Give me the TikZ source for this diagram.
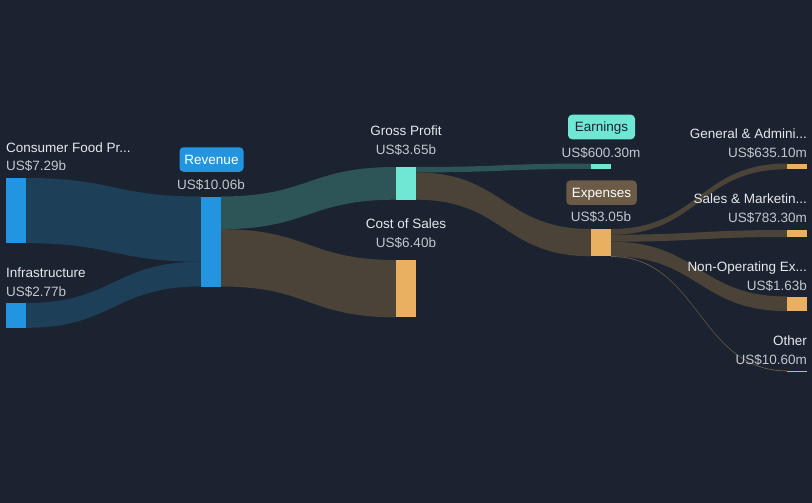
\documentclass[tikz,border=0pt]{standalone}
\usepackage{fontspec}
\setmainfont{Liberation Sans}
\usetikzlibrary{calc}
\definecolor{bgc}{HTML}{1B2230}
\definecolor{nblue}{HTML}{2394DF}
\definecolor{lblue}{HTML}{1E3F58}
\definecolor{nteal}{HTML}{6EE8D5}
\definecolor{lteal}{HTML}{2D5456}
\definecolor{norange}{HTML}{E8B060}
\definecolor{lbrown}{HTML}{4B4338}
\definecolor{bbrown}{HTML}{6B5A45}
\definecolor{tname}{HTML}{E6E8EB}
\definecolor{tval}{HTML}{C3C7CD}
\pgfdeclarelayer{bgl}
\pgfdeclarelayer{links}
\pgfsetlayers{bgl,links,main}
\newcommand{\flow}[6]{%
  \path ($(#2.north east)+(0,#3)$) coordinate (s1)
        ($(#2.north east)+(0,#3+#6)$) coordinate (s2)
        ($(#4.north west)+(0,#5)$) coordinate (d1)
        ($(#4.north west)+(0,#5+#6)$) coordinate (d2)
        ($(s1)!0.5!(d1)$) coordinate (m);
  \begin{pgfonlayer}{links}
    \fill[#1] (s1) .. controls (s1 -| m) and (d1 -| m) .. (d1) -- (d2)
      .. controls (d2 -| m) and (s2 -| m) .. (s2) -- cycle;
  \end{pgfonlayer}}
\tikzset{
  bar/.style={rectangle, inner sep=0pt, outer sep=0pt, minimum width=20pt, anchor=north west, draw=none},
  lbl/.style={inner sep=0pt, font=\fontsize{13.5}{16}\selectfont, text=tname},
  val/.style={inner sep=0pt, font=\fontsize{13.5}{16}\selectfont, text=tval},
  badge/.style={rectangle, rounded corners=4pt, inner sep=0pt, text height=9.7pt, text depth=0pt,
    font=\fontsize{13.5}{16}\selectfont, minimum height=24.5pt}
}
\begin{document}
\begin{tikzpicture}[x=1pt, y=-1pt]
\begin{pgfonlayer}{bgl}
\fill[bgc] (0,0) rectangle (812,503);
\end{pgfonlayer}
\useasboundingbox (0,0) rectangle (812,503);
% bars
\node[bar, fill=nblue, minimum height=65.2pt] (cf) at (6,178) {};
\node[bar, fill=nblue, minimum height=24.8pt] (inf) at (6,303) {};
\node[bar, fill=nblue, minimum height=90pt] (rev) at (201,196.5) {};
\node[bar, fill=nteal, minimum height=32.7pt] (gp) at (396,167) {};
\node[bar, fill=norange, minimum height=57.3pt] (cos) at (396,260) {};
\node[bar, fill=nteal, minimum height=5.4pt] (earn) at (591,163.5) {};
\node[bar, fill=norange, minimum height=27.3pt] (exp) at (591,229) {};
\node[bar, fill=norange, minimum height=5.7pt] (ga) at (787,163.5) {};
\node[bar, fill=norange, minimum height=7pt] (sm) at (787,230) {};
\node[bar, fill=norange, minimum height=14.6pt] (nop) at (787,296.5) {};
\node[bar, fill=norange, minimum height=1pt] (oth) at (787,370.5) {};
% flows
\flow{lblue}{cf}{0}{rev}{0}{65.2}
\flow{lblue}{inf}{0}{rev}{65.2}{24.8}
\flow{lteal}{rev}{0}{gp}{0}{32.7}
\flow{lbrown}{rev}{32.7}{cos}{0}{57.3}
\flow{lteal}{gp}{0}{earn}{0}{5.4}
\flow{lbrown}{gp}{5.4}{exp}{0}{27.3}
\flow{lbrown}{exp}{0}{ga}{0}{5.7}
\flow{lbrown}{exp}{5.7}{sm}{0}{7}
\flow{lbrown}{exp}{12.7}{nop}{0}{14.6}
\flow{bbrown}{exp}{27.1}{oth}{0}{0.8}
% labels left
\node[lbl, anchor=base west] (t-cf) at (6,152.3) {Consumer Food Pr...};
\node[val, anchor=base west] (v-cf) at (6,170.7) {US\$7.29b};
\node[lbl, anchor=base west] (t-inf) at (6,277.3) {Infrastructure};
\node[val, anchor=base west] (v-inf) at (6,296.3) {US\$2.77b};
% revenue
\node[badge, fill=nblue, text=white, minimum width=64pt] (b-rev) at (211.5,159.5) {Revenue};
\node[val, anchor=base] (v-rev) at (211,189) {US\$10.06b};
% middle
\node[lbl, anchor=base] (t-gp) at (406,135.3) {Gross Profit};
\node[val, anchor=base] (v-gp) at (406,154.3) {US\$3.65b};
\node[lbl, anchor=base] (t-cos) at (406,228.3) {Cost of Sales};
\node[val, anchor=base] (v-cos) at (406,247) {US\$6.40b};
\node[badge, fill=nteal, text=bgc, minimum width=67pt] (b-earn) at (601.5,127) {Earnings};
\node[val, anchor=base] (v-earn) at (601,157.3) {US\$600.30m};
\node[badge, fill=bbrown, text=white, minimum width=70.5pt] (b-exp) at (601.5,192.7) {Expenses};
\node[val, anchor=base] (v-exp) at (601,221.7) {US\$3.05b};
% right
\node[lbl, anchor=base east] (t-ga) at (807,138.3) {General \& Admini...};
\node[val, anchor=base east] (v-ga) at (807,157.3) {US\$635.10m};
\node[lbl, anchor=base east] (t-sm) at (807,203.3) {Sales \& Marketin...};
\node[val, anchor=base east] (v-sm) at (807,222.3) {US\$783.30m};
\node[lbl, anchor=base east] (t-nop) at (807,271) {Non-Operating Ex...};
\node[val, anchor=base east] (v-nop) at (807,290) {US\$1.63b};
\node[lbl, anchor=base east] (t-oth) at (807,345) {Other};
\node[val, anchor=base east] (v-oth) at (807,364.3) {US\$10.60m};
\end{tikzpicture}
\end{document}
